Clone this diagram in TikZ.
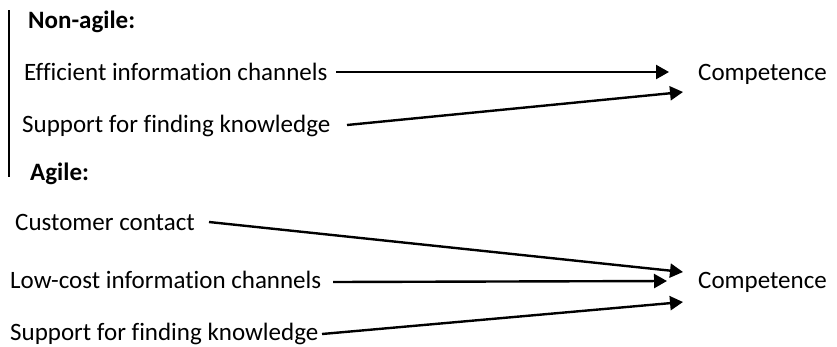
\documentclass[tikz,border=0pt]{standalone}
\usepackage{fontspec}
\setmainfont{Carlito}[Ligatures=NoCommon]
\usetikzlibrary{arrows.meta}
\begin{document}
\begin{tikzpicture}[x=1pt,y=-1pt,
  lbl/.style={anchor=base west,inner sep=0pt,font=\fontsize{25}{30}\selectfont},
  head/.style={lbl,font=\fontsize{25}{30}\selectfont\bfseries},
  arr/.style={line width=2.4pt,-{Triangle[length=13pt,width=14pt]}}]
\useasboundingbox (0,0) rectangle (837,346);

% left bracket line
\draw[line width=1.3pt] (9,10) -- (9,177);

% non-agile group
\node[head] (hn) at (28,28) {Non-agile:};
\node[lbl] (e1) at (24,80) {Efficient information channels};
\node[lbl] (s1) at (22,132) {Support for finding knowledge};
\node[lbl] (c1) at (698,80) {Competence};
\coordinate (e1a) at (336,72);
\coordinate (e1b) at (669,72);
\coordinate (s1a) at (347,125);
\coordinate (s1b) at (683,92);
\draw[arr] (e1a) -- (e1b);
\draw[arr] (s1a) -- (s1b);

% agile group
\node[head] (ha) at (30,180) {Agile:};
\node[lbl] (cc) at (15,230) {Customer contact};
\node[lbl] (lc) at (10,288) {Low-cost information channels};
\node[lbl] (s2) at (10,340) {Support for finding knowledge};
\node[lbl] (c2) at (698,288) {Competence};
\coordinate (cca) at (209,222);
\coordinate (ccb) at (683,272);
\coordinate (lca) at (333,282);
\coordinate (lcb) at (667,281);
\coordinate (s2a) at (322,334);
\coordinate (s2b) at (683,302);
\draw[arr] (cca) -- (ccb);
\draw[arr] (lca) -- (lcb);
\draw[arr] (s2a) -- (s2b);
\end{tikzpicture}
\end{document}
